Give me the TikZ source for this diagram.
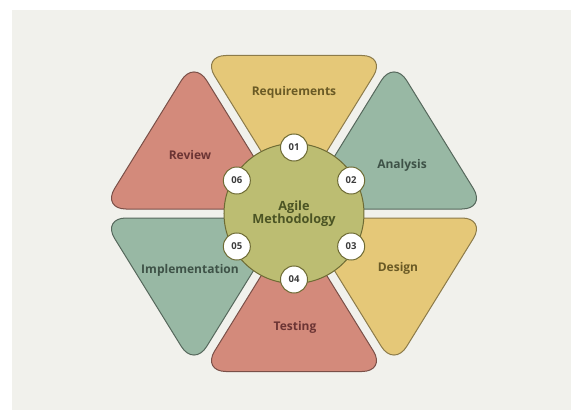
\documentclass[tikz,border=0pt]{standalone}
\usepackage{fontspec}
\setsansfont{Open Sans}

\definecolor{paper}{HTML}{F1F1EC}
\definecolor{yelfill}{HTML}{E5C878}
\definecolor{yeldraw}{HTML}{8C7B4A}
\definecolor{yeltext}{HTML}{6A5A25}
\definecolor{grnfill}{HTML}{98B8A4}
\definecolor{grndraw}{HTML}{56685C}
\definecolor{grntext}{HTML}{3E5247}
\definecolor{redfill}{HTML}{D38A7B}
\definecolor{reddraw}{HTML}{7A5048}
\definecolor{redtext}{HTML}{6B3434}
\definecolor{hubfill}{HTML}{BCBD72}
\definecolor{hubdraw}{HTML}{6E6B34}
\definecolor{hubtext}{HTML}{4B5424}
\definecolor{numtext}{HTML}{3B3B3B}

\begin{document}
\begin{tikzpicture}[x=1pt,y=1pt,
    petal/.style={line width=1pt, rounded corners=24pt},
    yel/.style={petal, fill=yelfill, draw=yeldraw},
    grn/.style={petal, fill=grnfill, draw=grndraw},
    red/.style={petal, fill=redfill, draw=reddraw},
    lbl/.style={font=\sffamily\bfseries\fontsize{12}{14}\selectfont},
    badge/.style={circle, draw=hubdraw, line width=1pt, fill=white,
        minimum size=27pt, inner sep=0pt, text=numtext,
        font=\sffamily\bfseries\fontsize{9.5}{10}\selectfont}]

    % page and panel
    \fill[white] (-294,-196.5) rectangle (277,213.5);
    \fill[paper] (-282,-196.5) rectangle (277,203.5);

    % six petals around the hub, each pushed out a little
    \draw[yel, shift={(0,9)}]     (0,0) -- (92,149) -- (-92,149) -- cycle;
    \draw[grn, shift={(8,4.5)}]   (0,0) -- (184,0) -- (92,149) -- cycle;
    \draw[yel, shift={(8,-4.5)}]  (0,0) -- (92,-149) -- (184,0) -- cycle;
    \draw[red, shift={(0,-9)}]    (0,0) -- (-92,-149) -- (92,-149) -- cycle;
    \draw[grn, shift={(-8,-4.5)}] (0,0) -- (-184,0) -- (-92,-149) -- cycle;
    \draw[red, shift={(-8,4.5)}]  (0,0) -- (-92,149) -- (-184,0) -- cycle;

    \node[lbl, text=yeltext] (req)  at (0,121)      {Requirements};
    \node[lbl, text=grntext] (ana)  at (108,48)     {Analysis};
    \node[lbl, text=yeltext] (des)  at (104,-55)    {Design};
    \node[lbl, text=redtext] (tst)  at (1,-114)     {Testing};
    \node[lbl, text=grntext] (impl) at (-104,-57)   {Implementation};
    \node[lbl, text=redtext] (rev)  at (-104,58)    {Review};

    % hub
    \node[circle, fill=hubfill, draw=hubdraw, line width=1pt,
        minimum size=140pt] (hub) at (0,0) {};
    \node[text=hubtext, align=center,
        font=\sffamily\bfseries\fontsize{12.7}{13}\selectfont] (agile) at (hub)
        {Agile\\Methodology};

    \foreach \n/\a in {01/90, 02/30, 03/-30, 04/-90, 05/-150, 06/150}
        \node[badge] (b\n) at (\a:66) {\n};
\end{tikzpicture}
\end{document}
